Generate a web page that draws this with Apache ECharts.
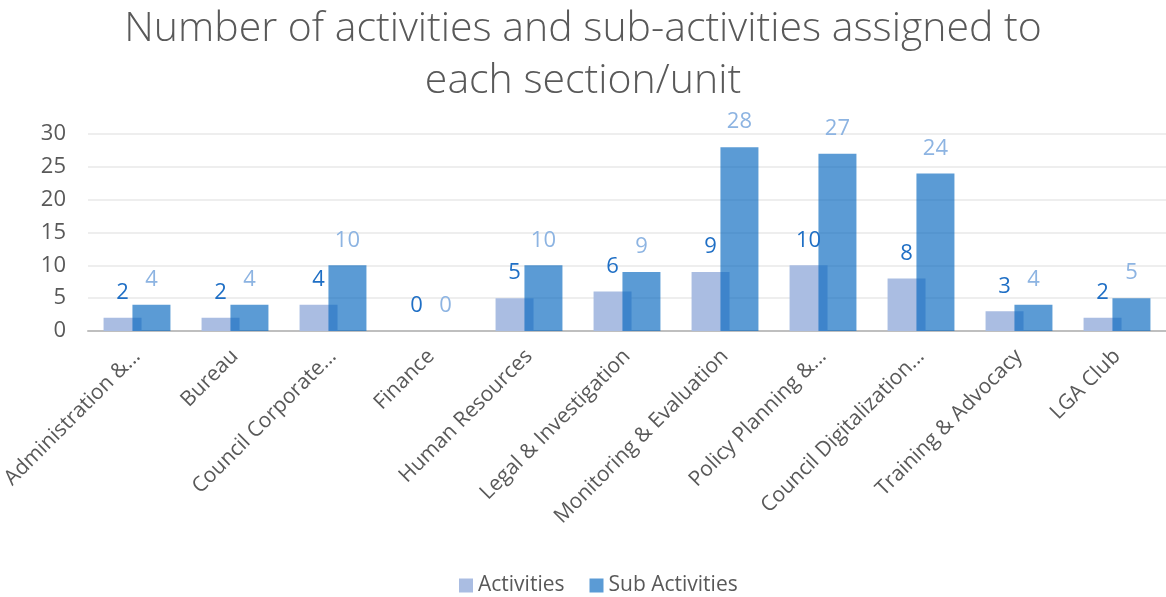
<!DOCTYPE html>
<html>
<head>
<meta charset="utf-8">
<script src="https://cdn.jsdelivr.net/npm/echarts@6/dist/echarts.min.js"></script>
<style>
  html, body { margin: 0; padding: 0; background: #fff; }
  #chart { width: 1166px; height: 597px; }
</style>
</head>
<body>
<div id="chart"></div>
<script>
const categories = [
  'Administration &...', 'Bureau', 'Council Corporate...', 'Finance',
  'Human Resources', 'Legal & Investigation', 'Monitoring & Evaluation',
  'Policy Planning &...', 'Council Digitalization...', 'Training & Advocacy', 'LGA Club'
]
const activities = [2, 2, 4, 0, 5, 6, 9, 10, 8, 3, 2]
const subActivities = [4, 4, 10, 0, 10, 9, 28, 27, 24, 4, 5]
const yTicks = [0, 5, 10, 15, 20, 25, 30]

const textColor = '#595959'
const font = '"Open Sans", "Liberation Sans", sans-serif'

const chart = echarts.init(document.getElementById('chart'))
chart.setOption({
  animation: false,
  title: {
    text: 'Number of activities and sub-activities assigned to\neach section/unit',
    left: 'center',
    top: -2,
    textStyle: {
      fontFamily: font,
      fontWeight: 300,
      fontSize: 41,
      lineHeight: 52,
      color: textColor,
    },
  },
  legend: {
    bottom: -4,
    left: 454,
    itemWidth: 14,
    itemHeight: 14,
    itemGap: 25,
    icon: 'rect',
    textStyle: { fontFamily: font, fontSize: 21, color: textColor },
    data: ['Activities', 'Sub Activities'],
  },
  grid: {
    left: 88,
    right: 0,
    top: 134,
    bottom: 266,
    outerBoundsMode: 'none',
  },
  xAxis: {
    type: 'category',
    data: categories,
    axisLine: { lineStyle: { color: '#bfbfbf', width: 2 } },
    axisTick: { show: false },
    axisLabel: {
      rotate: 45,
      interval: 0,
      margin: 22,
      fontFamily: font,
      fontSize: 21,
      color: textColor,
    },
  },
  yAxis: {
    type: 'value',
    min: yTicks[0],
    max: yTicks[yTicks.length - 1],
    interval: 5,
    axisLine: { show: false },
    axisTick: { show: false },
    axisLabel: {
      margin: 22,
      fontFamily: font,
      fontSize: 22,
      color: textColor,
    },
    splitLine: { lineStyle: { color: '#eeeeee', width: 2 } },
  },
  series: [
    {
      name: 'Activities',
      type: 'bar',
      data: activities,
      barWidth: 38,
      barGap: '-24%',
      itemStyle: { color: '#aabde2' },
      label: {
        show: true,
        position: 'top',
        distance: 14,
        fontFamily: font,
        fontSize: 22,
        color: '#1f6fc5',
      },
    },
    {
      name: 'Sub Activities',
      type: 'bar',
      data: subActivities,
      barWidth: 38,
      barGap: '-24%',
      itemStyle: { color: 'rgba(6,103,191,0.66)' },
      label: {
        show: true,
        position: 'top',
        distance: 14,
        fontFamily: font,
        fontSize: 22,
        color: '#8db4e2',
      },
    },
  ],
})
</script>
</body>
</html>
